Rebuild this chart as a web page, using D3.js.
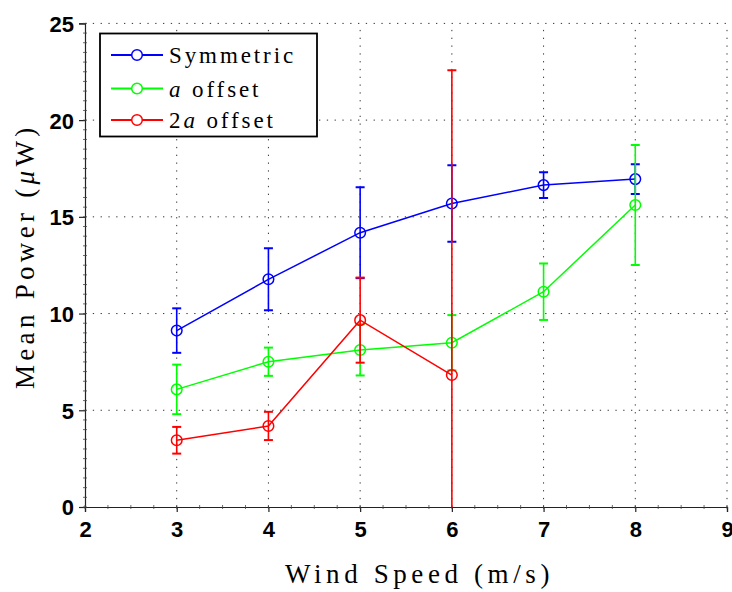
<!DOCTYPE html>
<html>
<head>
<meta charset="utf-8">
<script src="https://cdn.jsdelivr.net/npm/d3@7"></script>
<style>
  html, body { margin: 0; padding: 0; background: #fff; }
  svg { display: block; }
  .label { font-family: "Liberation Serif", "DejaVu Serif", "DejaVu Sans", serif; }
</style>
</head>
<body>
<script>
// Wind speeds (m/s) at which mean power was measured
const windSpeed = [3, 4, 5, 6, 7, 8];

// Mean power (µW) and error-bar half-widths per configuration
const symmetricMean = [9.12, 11.77, 14.18, 15.69, 16.64, 16.95];
const symmetricErr  = [1.15, 1.60, 2.35, 1.98, 0.67, 0.77];

const aOffsetMean = [6.08, 7.51, 8.12, 8.49, 11.13, 15.61];
const aOffsetErr  = [1.28, 0.73, 1.32, 1.43, 1.46, 3.10];

const twoAOffsetSpeed = [3, 4, 5, 6];
const twoAOffsetMean  = [3.45, 4.19, 9.66, 6.82];
const twoAOffsetErr   = [0.69, 0.73, 2.20, 15.76];

const xTicks = [2, 3, 4, 5, 6, 7, 8, 9];
const yTicks = [0, 5, 10, 15, 20, 25];

const seriesNames  = ["Symmetric", "a offset", "2a offset"];
const seriesColors = ["#0000ff", "#00ff00", "#ff0000"];

const W = 732, H = 592;
const margin = { left: 85, right: 5, top: 23.4, bottom: 85 };

const svg = d3.select("body").append("svg")
  .attr("width", W).attr("height", H);

const x = d3.scaleLinear().domain([2, 9]).range([margin.left, W - margin.right]);
const y = d3.scaleLinear().domain([0, 25]).range([H - margin.bottom, margin.top]);

// dotted grid
const grid = svg.append("g").attr("stroke", "#333").attr("stroke-width", 1)
  .attr("stroke-dasharray", "1.3,6.5");
grid.selectAll("line.gx").data(xTicks.slice(1)).join("line")
  .attr("x1", d => x(d)).attr("x2", d => x(d))
  .attr("y1", y(0)).attr("y2", y(25));
grid.selectAll("line.gy").data(yTicks.slice(1)).join("line")
  .attr("x1", x(2)).attr("x2", x(9))
  .attr("y1", d => y(d)).attr("y2", d => y(d));

// axes
const axisFont = "'Liberation Sans', Arial, sans-serif";
const xAxis = svg.append("g").attr("transform", `translate(0,${y(0)})`)
  .call(d3.axisBottom(x).tickValues(xTicks).tickFormat(d3.format("d")).tickSize(5).tickPadding(9));
const yAxis = svg.append("g").attr("transform", `translate(${x(2)},0)`)
  .call(d3.axisLeft(y).tickValues(yTicks).tickFormat(d3.format("d")).tickSize(6).tickPadding(5));
[xAxis, yAxis].forEach(g => {
  g.select(".domain").attr("stroke", "#222").attr("stroke-width", 1.2);
  g.selectAll(".tick line").attr("stroke", "#222").attr("stroke-width", 1.2);
  g.selectAll(".tick text").attr("fill", "#000")
    .style("font-family", axisFont).style("font-weight", "bold").style("font-size", "22px");
});
yAxis.selectAll(".tick text").attr("dy", "0.36em");

// minor ticks along the axis lines
const minorY = d3.range(0, 25.001, 0.5);
const minorX = d3.range(2, 9.001, 0.25);
svg.append("g").attr("stroke", "#444").attr("stroke-width", 0.8)
  .selectAll("line").data(minorY).join("line")
  .attr("x1", x(2) - 2).attr("x2", x(2) + 2)
  .attr("y1", d => y(d)).attr("y2", d => y(d));
svg.append("g").attr("stroke", "#444").attr("stroke-width", 0.8)
  .selectAll("line").data(minorX).join("line")
  .attr("x1", d => x(d)).attr("x2", d => x(d))
  .attr("y1", y(0) - 2).attr("y2", y(0) + 2);

// clip to plot area
svg.append("clipPath").attr("id", "plotArea").append("rect")
  .attr("x", x(2)).attr("y", y(25)).attr("width", x(9) - x(2)).attr("height", y(0) - y(25));

const series = [
  { xs: windSpeed, m: symmetricMean, e: symmetricErr },
  { xs: windSpeed, m: aOffsetMean, e: aOffsetErr },
  { xs: twoAOffsetSpeed, m: twoAOffsetMean, e: twoAOffsetErr }
];

const plot = svg.append("g").attr("clip-path", "url(#plotArea)");
const capHalf = 4.5;
series.forEach((s, i) => {
  const pts = s.xs.map((v, k) => ({ x: v, m: s.m[k], e: s.e[k] }));
  const g = plot.append("g").attr("stroke", seriesColors[i]).attr("fill", "none");
  // error bars
  const eb = g.selectAll("g.eb").data(pts).join("g").attr("stroke-width", 1.6);
  eb.append("line")
    .attr("x1", d => x(d.x)).attr("x2", d => x(d.x))
    .attr("y1", d => y(d.m - d.e)).attr("y2", d => y(d.m + d.e));
  eb.append("line")
    .attr("x1", d => x(d.x) - capHalf).attr("x2", d => x(d.x) + capHalf)
    .attr("y1", d => y(d.m + d.e)).attr("y2", d => y(d.m + d.e)).attr("stroke-width", 2);
  eb.append("line")
    .attr("x1", d => x(d.x) - capHalf).attr("x2", d => x(d.x) + capHalf)
    .attr("y1", d => y(d.m - d.e)).attr("y2", d => y(d.m - d.e)).attr("stroke-width", 2);
  // connecting line
  g.append("path").datum(pts).attr("stroke-width", 1.5)
    .attr("d", d3.line().x(d => x(d.x)).y(d => y(d.m)));
  // markers
  g.selectAll("circle").data(pts).join("circle")
    .attr("cx", d => x(d.x)).attr("cy", d => y(d.m)).attr("r", 5.3).attr("stroke-width", 1.5);
});

// legend
const legend = svg.append("g");
legend.append("rect").attr("x", 100).attr("y", 33.5).attr("width", 217).attr("height", 103)
  .attr("fill", "#fff").attr("stroke", "#000").attr("stroke-width", 1.8);
const rowY = [55, 88.5, 120];
seriesNames.forEach((name, i) => {
  const row = legend.append("g");
  row.append("line").attr("x1", 111).attr("x2", 163).attr("y1", rowY[i]).attr("y2", rowY[i])
    .attr("stroke", seriesColors[i]).attr("stroke-width", 1.8);
  row.append("circle").attr("cx", 137).attr("cy", rowY[i]).attr("r", 5.3)
    .attr("fill", "#fff").attr("stroke", seriesColors[i]).attr("stroke-width", 1.5);
  const t = row.append("text").attr("class", "label").attr("x", 169).attr("y", rowY[i] + 8)
    .style("font-size", "23px").style("letter-spacing", "2.9px");
  const parts = name.split("a offset");
  if (parts.length === 2) {
    if (parts[0]) t.append("tspan").text(parts[0]);
    t.append("tspan").style("font-style", "italic").text("a");
    t.append("tspan").text(" offset");
  } else {
    t.text(name);
  }
});

// axis titles
svg.append("text").attr("class", "label").attr("x", 285).attr("y", 583)
  .style("font-size", "27px").style("letter-spacing", "4.6px")
  .text("Wind Speed (m/s)");

const yl = svg.append("text").attr("class", "label").attr("transform", "translate(34,389) rotate(-90)")
  .style("font-size", "27px").style("letter-spacing", "4.3px");
yl.append("tspan").text("Mean Power (");
yl.append("tspan").style("font-style", "italic").text("μ");
yl.append("tspan").text("W)");
</script>
</body>
</html>
